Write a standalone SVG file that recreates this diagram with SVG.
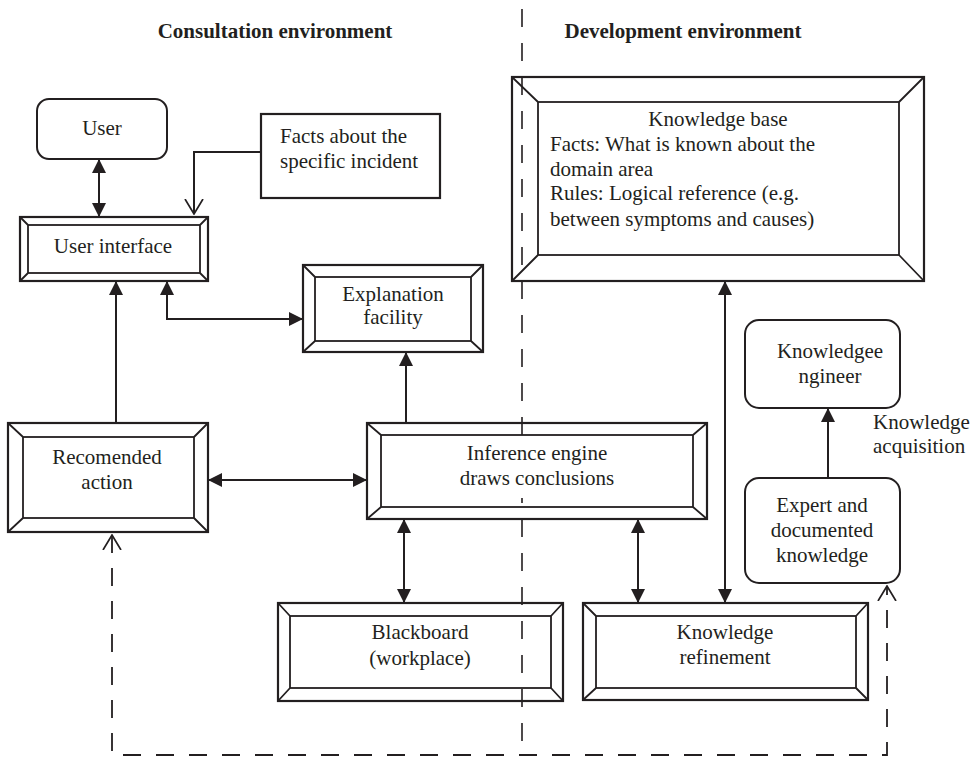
<svg xmlns="http://www.w3.org/2000/svg" width="978" height="757" viewBox="0 0 978 757">
  <style>
    text { font-family: "Liberation Serif", "Times New Roman", serif; font-size: 21px; fill: #231f20; }
    .title { font-weight: bold; text-anchor: middle; }
    .c { text-anchor: middle; }
    .frame { fill: none; stroke: #231f20; stroke-width: 2.2; }
    .bevel { fill: none; stroke: #231f20; stroke-width: 1.8; }
    .round { fill: none; stroke: #231f20; stroke-width: 2; }
    .link { fill: none; stroke: #231f20; stroke-width: 2; }
    .dash { fill: none; stroke: #231f20; stroke-width: 1.8; stroke-dasharray: 18 15; }
    .divider { fill: none; stroke: #231f20; stroke-width: 1.6; stroke-dasharray: 18 16; }
  </style>
  <defs>
    <marker id="solid" viewBox="0 0 14 14" refX="14" refY="7" markerWidth="14" markerHeight="14" markerUnits="userSpaceOnUse" orient="auto-start-reverse">
      <path d="M0,0 L14,7 L0,14 Z" fill="#231f20"/>
    </marker>
    <marker id="open" viewBox="0 0 16 20" refX="15" refY="10" markerWidth="16" markerHeight="20" markerUnits="userSpaceOnUse" orient="auto-start-reverse">
      <path d="M0,1 L15,10 L0,19" fill="none" stroke="#231f20" stroke-width="1.7"/>
    </marker>
  </defs>

  <rect width="978" height="757" fill="#ffffff"/>

  <!-- section titles and divider -->
  <text class="title" x="275" y="38">Consultation environment</text>
  <text class="title" x="683" y="38">Development environment</text>
  <line class="divider" x1="522" y1="9" x2="522" y2="742"/>

  <!-- connectors -->
  <g id="connectors">
    <line class="link" x1="99" y1="159" x2="99" y2="217" marker-start="url(#solid)" marker-end="url(#solid)"/>
    <path class="link" d="M261,152 H194 V214" marker-end="url(#open)"/>
    <line class="link" x1="116" y1="423" x2="116" y2="281" marker-end="url(#solid)"/>
    <path class="link" d="M167,281 V319 H303" marker-start="url(#solid)" marker-end="url(#solid)"/>
    <line class="link" x1="406" y1="423" x2="406" y2="352" marker-end="url(#solid)"/>
    <line class="link" x1="208" y1="480" x2="367" y2="480" marker-start="url(#solid)" marker-end="url(#solid)"/>
    <line class="link" x1="404" y1="519" x2="404" y2="603" marker-start="url(#solid)" marker-end="url(#solid)"/>
    <line class="link" x1="638" y1="519" x2="638" y2="603" marker-start="url(#solid)" marker-end="url(#solid)"/>
    <line class="link" x1="725" y1="281" x2="725" y2="603" marker-start="url(#solid)" marker-end="url(#solid)"/>
    <line class="link" x1="828" y1="478" x2="828" y2="408" marker-end="url(#solid)"/>
    <path class="dash" d="M112,535 V755 H887 V586" marker-start="url(#open)" marker-end="url(#open)"/>
  </g>

  <!-- consultation side -->
  <g id="user">
    <rect class="round" x="37" y="99" width="130" height="60" rx="12"/>
    <text class="c" x="102" y="135">User</text>
  </g>

  <g id="facts">
    <rect class="frame" x="261" y="114" width="179" height="84"/>
    <text x="280" y="143">Facts about the</text>
    <text x="280" y="168">specific incident</text>
  </g>

  <g id="user-interface">
    <rect class="frame" x="20" y="217" width="188" height="64"/>
    <rect class="bevel" x="28" y="225" width="172" height="48"/>
    <path class="bevel" d="M20,217 L28,225 M208,217 L200,225 M20,281 L28,273 M208,281 L200,273"/>
    <text class="c" x="113" y="253">User interface</text>
  </g>

  <g id="explanation">
    <rect class="frame" x="303" y="265" width="180" height="87"/>
    <rect class="bevel" x="315" y="277" width="156" height="64"/>
    <path class="bevel" d="M303,265 L315,277 M483,265 L471,277 M303,352 L315,341 M483,352 L471,341"/>
    <text class="c" x="393" y="301">Explanation</text>
    <text class="c" x="393" y="324">facility</text>
  </g>

  <g id="recommended-action">
    <rect class="frame" x="8" y="423" width="200" height="109"/>
    <rect class="bevel" x="23" y="437" width="171" height="81"/>
    <path class="bevel" d="M8,423 L23,437 M208,423 L194,437 M8,532 L23,518 M208,532 L194,518"/>
    <text class="c" x="107" y="464">Recomended</text>
    <text class="c" x="107" y="489">action</text>
  </g>

  <g id="inference-engine">
    <rect class="frame" x="367" y="423" width="340" height="96"/>
    <rect class="bevel" x="381" y="435" width="312" height="72"/>
    <path class="bevel" d="M367,423 L381,435 M707,423 L693,435 M367,519 L381,507 M707,519 L693,507"/>
    <!-- label backing keeps the divider out of the text -->
    <rect x="450" y="438" width="174" height="60" fill="#ffffff"/>
    <text class="c" x="537" y="460">Inference engine</text>
    <text class="c" x="537" y="485">draws conclusions</text>
  </g>

  <g id="blackboard">
    <rect class="frame" x="278" y="603" width="285" height="98"/>
    <rect class="bevel" x="290" y="616" width="261" height="72"/>
    <path class="bevel" d="M278,603 L290,616 M563,603 L551,616 M278,701 L290,688 M563,701 L551,688"/>
    <text class="c" x="420" y="639">Blackboard</text>
    <text class="c" x="420" y="665">(workplace)</text>
  </g>

  <!-- development side -->
  <g id="knowledge-base">
    <rect class="frame" x="512" y="77" width="412" height="204"/>
    <rect class="bevel" x="538" y="102" width="361" height="153"/>
    <path class="bevel" d="M512,77 L538,102 M924,77 L899,102 M512,281 L538,255 M924,281 L899,255"/>
    <text class="c" x="718" y="126">Knowledge base</text>
    <text x="550" y="151">Facts: What is known about the</text>
    <text x="550" y="176">domain area</text>
    <text x="550" y="200">Rules: Logical reference (e.g.</text>
    <text x="550" y="226">between symptoms and causes)</text>
  </g>

  <g id="knowledge-refinement">
    <rect class="frame" x="583" y="603" width="285" height="97"/>
    <rect class="bevel" x="596" y="616" width="260" height="72"/>
    <path class="bevel" d="M583,603 L596,616 M868,603 L856,616 M583,700 L596,688 M868,700 L856,688"/>
    <text class="c" x="725" y="639">Knowledge</text>
    <text class="c" x="725" y="664">refinement</text>
  </g>

  <g id="knowledge-engineer">
    <rect class="round" x="745" y="320" width="155" height="88" rx="14"/>
    <text class="c" x="830" y="358">Knowledgee</text>
    <text class="c" x="830" y="383">ngineer</text>
  </g>

  <g id="expert-knowledge">
    <rect class="round" x="745" y="478" width="155" height="105" rx="14"/>
    <text class="c" x="822" y="512">Expert and</text>
    <text class="c" x="822" y="537">documented</text>
    <text class="c" x="822" y="562">knowledge</text>
  </g>

  <g id="acquisition-label">
    <text x="873" y="429">Knowledge</text>
    <text x="873" y="453">acquisition</text>
  </g>
</svg>
